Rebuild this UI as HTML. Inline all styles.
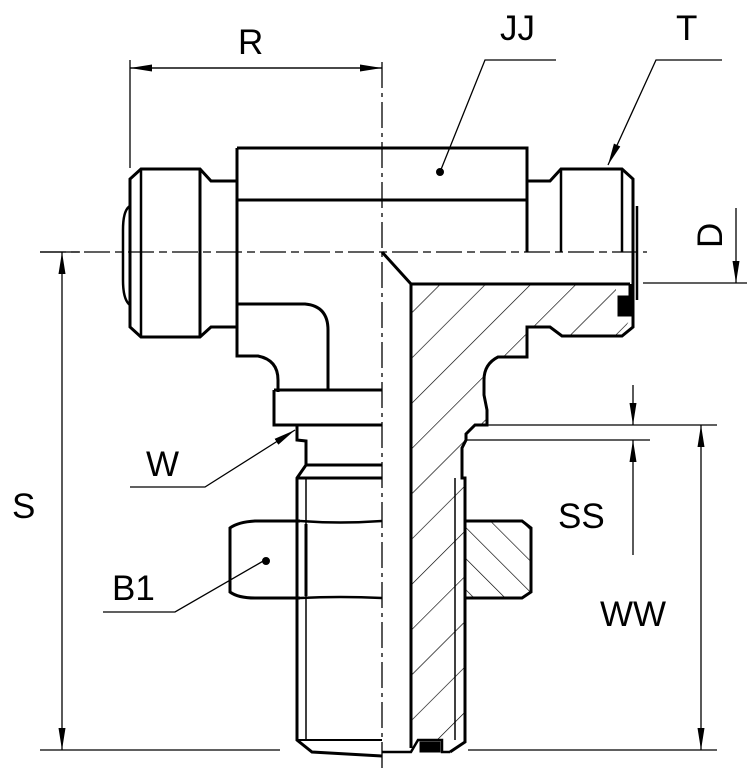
<!DOCTYPE html>
<html><head><meta charset="utf-8"><style>
html,body{margin:0;padding:0;background:#fff;}
svg{display:block}
text{font-family:"Liberation Sans",sans-serif;font-size:35px;fill:#000}
</style></head><body>
<svg width="754" height="781" viewBox="0 0 754 781" xmlns="http://www.w3.org/2000/svg">
<defs>
<pattern id="h1" patternUnits="userSpaceOnUse" width="32" height="32" patternTransform="rotate(45)">
<line x1="0" y1="0" x2="0" y2="32" stroke="#000" stroke-width="1.3"/></pattern>
<pattern id="h2" patternUnits="userSpaceOnUse" width="22" height="22" patternTransform="rotate(-45)">
<line x1="0" y1="0" x2="0" y2="22" stroke="#000" stroke-width="1.3"/></pattern>
<marker id="a" viewBox="0 0 22 8" refX="22" refY="4" markerWidth="22" markerHeight="8" markerUnits="userSpaceOnUse" orient="auto"><path d="M0,0.5 L22,4 L0,7.5 Z" fill="#000"/></marker>
</defs>
<g fill="none" stroke="#000">
<line x1="382" y1="62" x2="382" y2="768" stroke-width="1.3" stroke-dasharray="26,5,4,5"/>
<line x1="40" y1="252" x2="647" y2="252" stroke-width="1.3" stroke-dasharray="26,5,8,5"/>

<path d="M411,284 L616,284 L616,300 L630,318 L622,336 L562,336 L550,327 L527,327 L527,357 L498,357 Q484,364 484,380 L484,395 L487,410 L487,425 L475,425 L466,440 L462,448 L462,478 L465,478 L465,742 L450,752 L440,752 L440,740 L418,740 L411,748 Z" fill="url(#h1)" stroke="none"/>
<path d="M466,521 L522,521 L531,528 L531,592 L522,598 L466,598 Z" fill="url(#h2)" stroke="none"/>

<g stroke-width="3">
<path d="M237,148 L527,148 L527,252"/>
<line x1="237" y1="200" x2="527" y2="200"/>
<path d="M237,148 L237,356 L258,356 Q278,360 278,380 L278,392"/>
<path d="M237,304 L305,304 Q328,306 328,330 L328,390"/>
<path d="M274,390 L274,425 L382,425 M274,390 L382,390"/>
<path d="M237,181 L211,181 L200,169 L141,169 L130,179 L130,327 L141,337 L200,337 L211,327 L237,327"/>
<line x1="141" y1="169" x2="141" y2="337" stroke-width="2.5"/>
<line x1="200" y1="169" x2="200" y2="337" stroke-width="3"/>
<path d="M130,206 Q123,210 123,230 L123,280 Q123,300 130,305" stroke-width="2.5"/>
<path d="M527,181 L550,181 L561,169 L622,169 L633,179 L633,300"/>
<line x1="561" y1="169" x2="561" y2="252" stroke-width="2.5"/>
<line x1="622" y1="169" x2="622" y2="252" stroke-width="2.5"/>
<line x1="637" y1="206" x2="637" y2="300" stroke-width="2.5"/>
<path d="M382,252 L411,284 L630,284"/>
<path d="M630,284 L630,300 M633,300 L633,327 L622,336 L562,336 L550,327 L527,327 L527,357 L498,357 Q484,364 484,380 L484,395 L487,410 L487,425 L475,425 L466,434 L466,440 L462,448 L462,478 L465,478 L465,742 L450,752"/>
<rect x="618" y="296" width="14" height="20" fill="#000" stroke-width="1"/>
<line x1="411" y1="284" x2="411" y2="748"/>
<path d="M297,425 L297,440 L306,441 L306,465 L297,478 L297,740 L312,752 L382,756"/>
<line x1="306" y1="465" x2="382" y2="465"/>
<line x1="297" y1="478" x2="382" y2="478"/>
<line x1="297" y1="740" x2="382" y2="740" stroke-width="2"/>
<line x1="306" y1="478" x2="306" y2="740" stroke-width="1.5"/>
<path d="M382,752 L411,752 L418,740 L442,740 L442,752 L450,752" stroke-width="2.5"/>
<rect x="420" y="742" width="20" height="10" fill="#000" stroke-width="1"/>
<line x1="455" y1="478" x2="455" y2="740" stroke-width="1.5"/>
<path d="M300,521 L255,521 Q238,522 230,528 L230,592 Q238,598 255,598 L300,598"/>
<path d="M300,521 Q340,524 382,521 M300,598 Q340,596 382,598" stroke-width="2.5"/>
<line x1="306" y1="524" x2="306" y2="596"/>
<path d="M466,521 L522,521 L531,528 L531,592 L522,598 L466,598"/>
</g>

<g stroke-width="1.3">
<line x1="130" y1="60" x2="130" y2="168"/>
<line x1="130" y1="68" x2="382" y2="68" marker-end="url(#a)"/>
<line x1="382" y1="68" x2="130" y2="68" marker-end="url(#a)"/>
<polyline points="556,60 485,60 440,172"/>
<polyline points="722,60 656,60 608,165" marker-end="url(#a)"/>
<line x1="643" y1="283" x2="747" y2="283"/>
<line x1="736" y1="208" x2="736" y2="283" marker-end="url(#a)"/>
<line x1="40" y1="252" x2="80" y2="252"/>
<line x1="40" y1="750" x2="280" y2="750"/>
<line x1="468" y1="750" x2="717" y2="750"/>
<line x1="62" y1="500" x2="62" y2="252" marker-end="url(#a)"/>
<line x1="62" y1="500" x2="62" y2="750" marker-end="url(#a)"/>
<line x1="482" y1="425" x2="717" y2="425"/>
<line x1="466" y1="440" x2="650" y2="440"/>
<line x1="633" y1="385" x2="633" y2="425" marker-end="url(#a)"/>
<line x1="633" y1="555" x2="633" y2="440" marker-end="url(#a)"/>
<line x1="701" y1="590" x2="701" y2="425" marker-end="url(#a)"/>
<line x1="701" y1="590" x2="701" y2="750" marker-end="url(#a)"/>
<polyline points="130,487 205,487 295,430" marker-end="url(#a)"/>
<polyline points="103,612 175,612 265,560"/>
</g>
<circle cx="440" cy="172" r="3.5" fill="#000"/>
<circle cx="266" cy="561" r="3.5" fill="#000"/>
</g>

<text x="238" y="54">R</text>
<text x="500" y="40">JJ</text>
<text x="676" y="40">T</text>
<text x="0" y="0" transform="translate(722,248) rotate(-90)">D</text>
<text x="12" y="518">S</text>
<text x="558" y="528">SS</text>
<text x="600" y="626">WW</text>
<text x="146" y="476">W</text>
<text x="112" y="600">B1</text>
</svg>
</body></html>
